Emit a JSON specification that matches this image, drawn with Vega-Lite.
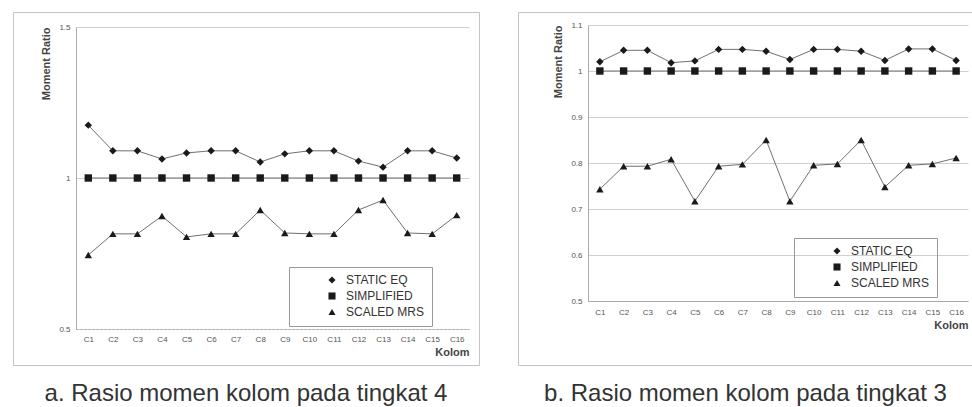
{
  "$schema": "https://vega.github.io/schema/vega-lite/v6.json",
  "padding": {"left": 12, "top": 11, "right": 0, "bottom": 0},
  "spacing": 37,
  "config": {
    "font": "Liberation Sans",
    "view": {"stroke": "#c4c4c4", "strokeWidth": 1},
    "axis": {"labelFont": "Liberation Sans", "titleFont": "Liberation Sans"}
  },
  "datasets": {
    "a": [
      {"kolom": "C1", "series": "STATIC EQ", "ratio": 1.175},
      {"kolom": "C2", "series": "STATIC EQ", "ratio": 1.09},
      {"kolom": "C3", "series": "STATIC EQ", "ratio": 1.09},
      {"kolom": "C4", "series": "STATIC EQ", "ratio": 1.063},
      {"kolom": "C5", "series": "STATIC EQ", "ratio": 1.083},
      {"kolom": "C6", "series": "STATIC EQ", "ratio": 1.09},
      {"kolom": "C7", "series": "STATIC EQ", "ratio": 1.09},
      {"kolom": "C8", "series": "STATIC EQ", "ratio": 1.053},
      {"kolom": "C9", "series": "STATIC EQ", "ratio": 1.08},
      {"kolom": "C10", "series": "STATIC EQ", "ratio": 1.09},
      {"kolom": "C11", "series": "STATIC EQ", "ratio": 1.09},
      {"kolom": "C12", "series": "STATIC EQ", "ratio": 1.056},
      {"kolom": "C13", "series": "STATIC EQ", "ratio": 1.036},
      {"kolom": "C14", "series": "STATIC EQ", "ratio": 1.09},
      {"kolom": "C15", "series": "STATIC EQ", "ratio": 1.09},
      {"kolom": "C16", "series": "STATIC EQ", "ratio": 1.066},
      {"kolom": "C1", "series": "SIMPLIFIED", "ratio": 1},
      {"kolom": "C2", "series": "SIMPLIFIED", "ratio": 1},
      {"kolom": "C3", "series": "SIMPLIFIED", "ratio": 1},
      {"kolom": "C4", "series": "SIMPLIFIED", "ratio": 1},
      {"kolom": "C5", "series": "SIMPLIFIED", "ratio": 1},
      {"kolom": "C6", "series": "SIMPLIFIED", "ratio": 1},
      {"kolom": "C7", "series": "SIMPLIFIED", "ratio": 1},
      {"kolom": "C8", "series": "SIMPLIFIED", "ratio": 1},
      {"kolom": "C9", "series": "SIMPLIFIED", "ratio": 1},
      {"kolom": "C10", "series": "SIMPLIFIED", "ratio": 1},
      {"kolom": "C11", "series": "SIMPLIFIED", "ratio": 1},
      {"kolom": "C12", "series": "SIMPLIFIED", "ratio": 1},
      {"kolom": "C13", "series": "SIMPLIFIED", "ratio": 1},
      {"kolom": "C14", "series": "SIMPLIFIED", "ratio": 1},
      {"kolom": "C15", "series": "SIMPLIFIED", "ratio": 1},
      {"kolom": "C16", "series": "SIMPLIFIED", "ratio": 1},
      {"kolom": "C1", "series": "SCALED MRS", "ratio": 0.745},
      {"kolom": "C2", "series": "SCALED MRS", "ratio": 0.815},
      {"kolom": "C3", "series": "SCALED MRS", "ratio": 0.815},
      {"kolom": "C4", "series": "SCALED MRS", "ratio": 0.874},
      {"kolom": "C5", "series": "SCALED MRS", "ratio": 0.805},
      {"kolom": "C6", "series": "SCALED MRS", "ratio": 0.815},
      {"kolom": "C7", "series": "SCALED MRS", "ratio": 0.815},
      {"kolom": "C8", "series": "SCALED MRS", "ratio": 0.894},
      {"kolom": "C9", "series": "SCALED MRS", "ratio": 0.818},
      {"kolom": "C10", "series": "SCALED MRS", "ratio": 0.815},
      {"kolom": "C11", "series": "SCALED MRS", "ratio": 0.815},
      {"kolom": "C12", "series": "SCALED MRS", "ratio": 0.894},
      {"kolom": "C13", "series": "SCALED MRS", "ratio": 0.927},
      {"kolom": "C14", "series": "SCALED MRS", "ratio": 0.818},
      {"kolom": "C15", "series": "SCALED MRS", "ratio": 0.815},
      {"kolom": "C16", "series": "SCALED MRS", "ratio": 0.877}
    ],
    "b": [
      {"kolom": "C1", "series": "STATIC EQ", "ratio": 1.02},
      {"kolom": "C2", "series": "STATIC EQ", "ratio": 1.045},
      {"kolom": "C3", "series": "STATIC EQ", "ratio": 1.045},
      {"kolom": "C4", "series": "STATIC EQ", "ratio": 1.018},
      {"kolom": "C5", "series": "STATIC EQ", "ratio": 1.022},
      {"kolom": "C6", "series": "STATIC EQ", "ratio": 1.047},
      {"kolom": "C7", "series": "STATIC EQ", "ratio": 1.047},
      {"kolom": "C8", "series": "STATIC EQ", "ratio": 1.043},
      {"kolom": "C9", "series": "STATIC EQ", "ratio": 1.025},
      {"kolom": "C10", "series": "STATIC EQ", "ratio": 1.047},
      {"kolom": "C11", "series": "STATIC EQ", "ratio": 1.047},
      {"kolom": "C12", "series": "STATIC EQ", "ratio": 1.043},
      {"kolom": "C13", "series": "STATIC EQ", "ratio": 1.023},
      {"kolom": "C14", "series": "STATIC EQ", "ratio": 1.048},
      {"kolom": "C15", "series": "STATIC EQ", "ratio": 1.048},
      {"kolom": "C16", "series": "STATIC EQ", "ratio": 1.023},
      {"kolom": "C1", "series": "SIMPLIFIED", "ratio": 1},
      {"kolom": "C2", "series": "SIMPLIFIED", "ratio": 1},
      {"kolom": "C3", "series": "SIMPLIFIED", "ratio": 1},
      {"kolom": "C4", "series": "SIMPLIFIED", "ratio": 1},
      {"kolom": "C5", "series": "SIMPLIFIED", "ratio": 1},
      {"kolom": "C6", "series": "SIMPLIFIED", "ratio": 1},
      {"kolom": "C7", "series": "SIMPLIFIED", "ratio": 1},
      {"kolom": "C8", "series": "SIMPLIFIED", "ratio": 1},
      {"kolom": "C9", "series": "SIMPLIFIED", "ratio": 1},
      {"kolom": "C10", "series": "SIMPLIFIED", "ratio": 1},
      {"kolom": "C11", "series": "SIMPLIFIED", "ratio": 1},
      {"kolom": "C12", "series": "SIMPLIFIED", "ratio": 1},
      {"kolom": "C13", "series": "SIMPLIFIED", "ratio": 1},
      {"kolom": "C14", "series": "SIMPLIFIED", "ratio": 1},
      {"kolom": "C15", "series": "SIMPLIFIED", "ratio": 1},
      {"kolom": "C16", "series": "SIMPLIFIED", "ratio": 1},
      {"kolom": "C1", "series": "SCALED MRS", "ratio": 0.743},
      {"kolom": "C2", "series": "SCALED MRS", "ratio": 0.793},
      {"kolom": "C3", "series": "SCALED MRS", "ratio": 0.793},
      {"kolom": "C4", "series": "SCALED MRS", "ratio": 0.808},
      {"kolom": "C5", "series": "SCALED MRS", "ratio": 0.717},
      {"kolom": "C6", "series": "SCALED MRS", "ratio": 0.793},
      {"kolom": "C7", "series": "SCALED MRS", "ratio": 0.797},
      {"kolom": "C8", "series": "SCALED MRS", "ratio": 0.85},
      {"kolom": "C9", "series": "SCALED MRS", "ratio": 0.717},
      {"kolom": "C10", "series": "SCALED MRS", "ratio": 0.795},
      {"kolom": "C11", "series": "SCALED MRS", "ratio": 0.798},
      {"kolom": "C12", "series": "SCALED MRS", "ratio": 0.85},
      {"kolom": "C13", "series": "SCALED MRS", "ratio": 0.748},
      {"kolom": "C14", "series": "SCALED MRS", "ratio": 0.795},
      {"kolom": "C15", "series": "SCALED MRS", "ratio": 0.798},
      {"kolom": "C16", "series": "SCALED MRS", "ratio": 0.811}
    ]
  },
  "hconcat": [
    {
      "width": 466,
      "height": 353,
      "data": {"name": "a"},
      "title": {"text": "a. Rasio momen kolom pada tingkat 4", "orient": "bottom", "anchor": "middle", "fontSize": 24, "fontWeight": "normal", "color": "#333333", "offset": 17},
      "encoding": {
        "x": {
          "field": "kolom", "type": "ordinal", "sort": null,
          "scale": {"type": "point", "range": [63, 456], "padding": 0.5},
          "axis": {"orient": "bottom", "offset": -36, "labelAngle": 0, "labelFontSize": 8, "labelColor": "#555555", "labelPadding": 6, "ticks": false, "domain": true, "domainColor": "#aaaaaa", "domainDash": [2, 2], "grid": false, "title": "Kolom", "titleAnchor": "end", "titleFontSize": 11, "titleFontWeight": "bold", "titleColor": "#444444", "titlePadding": 3}
        },
        "y": {
          "field": "ratio", "type": "quantitative",
          "scale": {"domain": [0.5, 1.5], "range": [317, 15], "nice": false, "zero": false},
          "axis": {"orient": "left", "offset": -63, "values": [0.5, 1, 1.5], "format": "~g", "labelFontSize": 8, "labelColor": "#555555", "labelPadding": 6, "ticks": false, "domain": true, "domainColor": "#aaaaaa", "grid": true, "gridColor": "#d0d0d0", "title": "Moment Ratio", "titleAnchor": "end", "titleFontSize": 11, "titleFontWeight": "bold", "titleColor": "#444444", "titlePadding": 7}
        }
      },
      "layer": [
        {"mark": {"type": "line", "color": "#707070", "strokeWidth": 1}, "encoding": {"detail": {"field": "series"}}},
        {
          "mark": {"type": "point", "filled": true, "color": "#1a1a1a", "size": 55, "opacity": 1},
          "encoding": {
            "shape": {
              "field": "series", "type": "nominal",
              "scale": {"domain": ["STATIC EQ", "SIMPLIFIED", "SCALED MRS"], "range": ["diamond", "square", "triangle-up"]},
              "legend": {"title": null, "orient": "none", "legendX": 276, "legendY": 255, "strokeColor": "#999999", "padding": 7, "symbolOffset": 30, "labelOffset": 8, "labelFontSize": 12, "labelColor": "#333333", "symbolSize": 50, "symbolFillColor": "#1a1a1a", "symbolStrokeColor": "#1a1a1a", "rowPadding": 2}
            }
          }
        }
      ]
    },
    {
      "width": 455,
      "height": 353,
      "data": {"name": "b"},
      "title": {"text": "b. Rasio momen kolom pada tingkat 3", "orient": "bottom", "anchor": "middle", "fontSize": 24, "fontWeight": "normal", "color": "#333333", "offset": 17},
      "encoding": {
        "x": {
          "field": "kolom", "type": "ordinal", "sort": null,
          "scale": {"type": "point", "range": [70, 450], "padding": 0.5},
          "axis": {"orient": "bottom", "offset": -64, "labelAngle": 0, "labelFontSize": 8, "labelColor": "#555555", "labelPadding": 7, "ticks": false, "domain": true, "domainColor": "#aaaaaa", "grid": false, "title": "Kolom", "titleAnchor": "end", "titleFontSize": 11, "titleFontWeight": "bold", "titleColor": "#444444", "titlePadding": 3}
        },
        "y": {
          "field": "ratio", "type": "quantitative",
          "scale": {"domain": [0.5, 1.1], "range": [289, 13], "nice": false, "zero": false},
          "axis": {"orient": "left", "offset": -70, "values": [0.5, 0.6, 0.7, 0.8, 0.9, 1, 1.1], "format": "~g", "labelFontSize": 8, "labelColor": "#555555", "labelPadding": 6, "ticks": false, "domain": true, "domainColor": "#aaaaaa", "grid": true, "gridColor": "#d0d0d0", "title": "Moment Ratio", "titleAnchor": "end", "titleFontSize": 11, "titleFontWeight": "bold", "titleColor": "#444444", "titlePadding": 7}
        }
      },
      "layer": [
        {"mark": {"type": "line", "color": "#707070", "strokeWidth": 1}, "encoding": {"detail": {"field": "series"}}},
        {
          "mark": {"type": "point", "filled": true, "color": "#1a1a1a", "size": 55, "opacity": 1},
          "encoding": {
            "shape": {
              "field": "series", "type": "nominal",
              "scale": {"domain": ["STATIC EQ", "SIMPLIFIED", "SCALED MRS"], "range": ["diamond", "square", "triangle-up"]},
              "legend": {"title": null, "orient": "none", "legendX": 276, "legendY": 226, "strokeColor": "#999999", "padding": 7, "symbolOffset": 30, "labelOffset": 8, "labelFontSize": 12, "labelColor": "#333333", "symbolSize": 50, "symbolFillColor": "#1a1a1a", "symbolStrokeColor": "#1a1a1a", "rowPadding": 2}
            }
          }
        }
      ]
    }
  ],
  "resolve": {"scale": {"shape": "independent"}, "legend": {"shape": "independent"}}
}
